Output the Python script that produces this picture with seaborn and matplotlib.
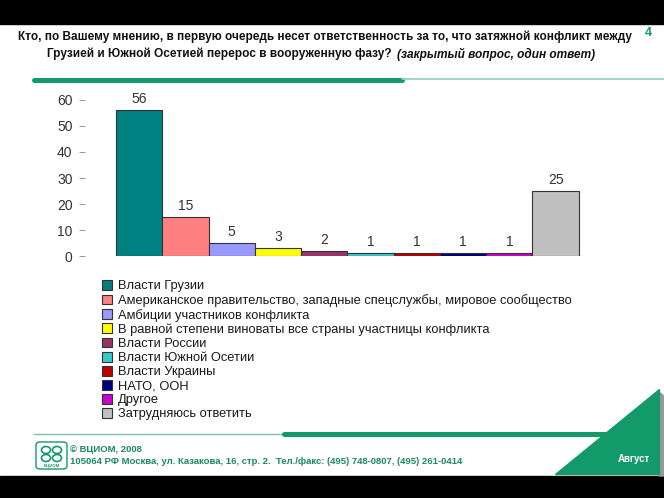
import matplotlib
matplotlib.use("Agg")
import matplotlib.pyplot as plt
import seaborn as sns
import pandas as pd
from matplotlib.patches import Rectangle, Polygon, FancyBboxPatch, Ellipse
from matplotlib.lines import Line2D

# data
answers = [
    "Власти Грузии",
    "Американское правительство, западные спецслужбы, мировое сообщество",
    "Амбиции участников конфликта",
    "В равной степени виноваты все страны участницы конфликта",
    "Власти России",
    "Власти Южной Осетии",
    "Власти Украины",
    "НАТО, ООН",
    "Другое",
    "Затрудняюсь ответить",
]
shares = [56, 15, 5, 3, 2, 1, 1, 1, 1, 25]
bar_colors = ["#008080", "#FF8080", "#9999FF", "#FFFF00", "#993366",
              "#33CCCC", "#C00000", "#000080", "#CC00CC", "#C0C0C0"]
y_ticks = [0, 10, 20, 30, 40, 50, 60]

title_1 = ("Кто, по Вашему мнению, в первую очередь несет ответственность за то, "
           "что затяжной конфликт между")
title_2a = "Грузией и Южной Осетией перерос в вооруженную фазу?"
title_2b = "(закрытый вопрос, один ответ)"
footer_1 = "© ВЦИОМ, 2008"
footer_2 = ("105064 РФ Москва, ул. Казакова, 16, стр. 2.  "
            "Тел./факс: (495) 748-0807, (495) 261-0414")

W, H = 664, 498
GREEN = "#139a6b"


def px(x, y):
    # pixel position (from top-left) -> figure fraction
    return x / W, 1 - y / H


sns.set_theme(style="white")
plt.rcParams["font.family"] = ["Liberation Sans", "DejaVu Sans"]

df = pd.DataFrame({"answer": answers, "share": shares})

fig = plt.figure(figsize=(W / 100, H / 100), dpi=100)
ax = fig.add_axes([85 / W, 1 - 256 / H, 528 / W, 62 * 2.6 / H])
sns.barplot(data=df, x="answer", y="share", hue="answer", palette=bar_colors,
            width=1.0, saturation=1, edgecolor="#333333", linewidth=0.8,
            legend=False, ax=ax)
for c in ax.containers:
    ax.bar_label(c, padding=3, fontsize=10, color="#333333")

ax.set_xlim(-1.17, 10.24)
ax.set_ylim(0, 62)
ax.set_yticks(y_ticks)
ax.set_xticks([])
ax.set_xlabel("")
ax.set_ylabel("")
ax.tick_params(axis="y", left=True, length=4, width=0.6, color="#888888",
               pad=5, labelsize=10, labelcolor="#333333")
sns.despine(ax=ax, left=True, bottom=True)

handles = [c.patches[0] for c in ax.containers]
fig.legend(handles, answers, loc="upper left", bbox_to_anchor=px(102, 280),
           frameon=False, fontsize=9.3, handlelength=0.8, handleheight=0.8,
           handletextpad=0.45, labelspacing=0.13, borderpad=0, borderaxespad=0,
           labelcolor="#1a1a1a")

# black bands
fig.patches.append(Rectangle(px(0, 24), 1, 24 / H, transform=fig.transFigure,
                             color="black", zorder=0))
fig.patches.append(Rectangle((0, 0), 1, 22 / H, transform=fig.transFigure,
                             color="black", zorder=0))

# title
fig.text(*px(325, 37), title_1, ha="center", va="center", fontsize=8.5,
         weight="bold", color="#111111")
fig.text(*px(392, 54), title_2a, ha="right", va="center", fontsize=8.6,
         weight="bold", color="#111111")
fig.text(*px(397, 54), title_2b, ha="left", va="center", fontsize=8.6,
         weight="bold", style="italic", color="#111111")
fig.text(*px(648, 33), "4", ha="center", va="center", fontsize=9,
         weight="bold", color=GREEN)

# green rules
fig.lines.append(Line2D([34 / W, 402 / W], [1 - 80 / H] * 2,
                        transform=fig.transFigure, color=GREEN, lw=3.6))
fig.lines.append(Line2D([402 / W, 1], [1 - 79 / H] * 2,
                        transform=fig.transFigure, color="#8fd0b8", lw=1.2))
fig.lines.append(Line2D([34 / W, 284 / W], [1 - 434 / H] * 2,
                        transform=fig.transFigure, color="#7cc4a8", lw=1.0))
fig.lines.append(Line2D([284 / W, 607 / W], [1 - 433.5 / H] * 2,
                        transform=fig.transFigure, color=GREEN, lw=3.6))

# corner triangle with shadow
fig.patches.append(Polygon([px(659, 392), px(664, 396), px(664, 476), px(659, 476)],
                           closed=True, transform=fig.transFigure,
                           color="#9a9a9a", zorder=1))
fig.patches.append(Polygon([px(659, 389), px(659, 474), px(555, 474)],
                           closed=True, transform=fig.transFigure,
                           color=GREEN, zorder=2))
fig.text(*px(634, 459), "Август", ha="center", va="center", fontsize=7,
         weight="bold", color="white", zorder=3)

# logo
fig.patches.append(FancyBboxPatch(px(36, 469), 31 / W, 27 / H,
                                  boxstyle="round,pad=0,rounding_size=0.006",
                                  transform=fig.transFigure, facecolor="white",
                                  edgecolor=GREEN, lw=1.0))
for cx, cy in [(46, 450), (57, 450), (46, 458), (57, 458)]:
    fig.patches.append(Ellipse(px(cx, cy), 9 / W, 7 / H, transform=fig.transFigure,
                               facecolor="none", edgecolor=GREEN, lw=1.2))
fig.text(*px(51.5, 466), "ВЦИОМ", ha="center", va="center", fontsize=3.2,
         weight="bold", color=GREEN)

fig.text(*px(70, 449), footer_1, ha="left", va="center", fontsize=6.8,
         weight="bold", color="#1a8a5f")
fig.text(*px(70, 461), footer_2, ha="left", va="center", fontsize=6.8,
         weight="bold", color="#1a8a5f")

fig.savefig("out.png", dpi=100)
